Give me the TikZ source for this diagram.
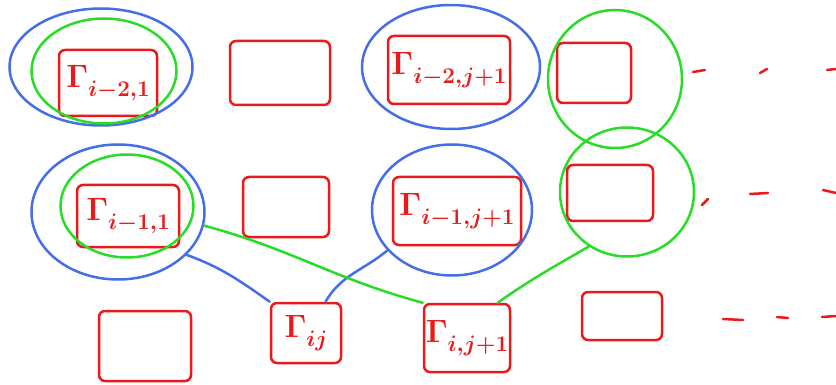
\documentclass[tikz,border=0pt]{standalone}
\usepackage{graphicx}
\usetikzlibrary{shapes.geometric}
\definecolor{inkred}{RGB}{235,25,25}
\definecolor{inkblue}{RGB}{70,110,230}
\definecolor{inkgreen}{RGB}{40,220,40}
\newcommand{\gam}[1]{\scalebox{1.3}{\boldmath\Huge$\Gamma$\raisebox{-0.28em}{\LARGE$#1$}}}
\begin{document}
\begin{tikzpicture}[x=1pt,y=-1pt,
 cell/.style={draw=inkred, text=inkred, line width=2.5pt, rounded corners=6pt, inner sep=0pt},
 bring/.style={draw=inkblue, ellipse, line width=2.5pt, inner sep=0pt},
 gring/.style={draw=inkgreen, ellipse, line width=2.5pt, inner sep=0pt},
 blink/.style={draw=inkblue, line width=2.5pt, line cap=round},
 glink/.style={draw=inkgreen, line width=2.5pt, line cap=round},
 tick/.style={draw=inkred, line width=2.5pt, line cap=round}]
\useasboundingbox (0,0) rectangle (836,385);

% row 1
\node[cell, minimum width=98pt, minimum height=66pt] (A) at (108,83) {\gam{i{-}2{,}1}};
\node[cell, minimum width=100pt, minimum height=64pt] (c2) at (280,73) {};
\node[cell, minimum width=122pt, minimum height=68pt] (B) at (449,70) {\gam{i{-}2{,}j{+}1}};
\node[cell, minimum width=74pt, minimum height=60pt] (c3) at (594,73) {};
% row 2
\node[cell, minimum width=102pt, minimum height=62pt] (C) at (128,216) {\gam{i{-}1{,}1}};
\node[cell, minimum width=86pt, minimum height=60pt] (c4) at (286,207) {};
\node[cell, minimum width=128pt, minimum height=68pt] (D) at (457,211) {\gam{i{-}1{,}j{+}1}};
\node[cell, minimum width=86pt, minimum height=56pt] (c5) at (610,193) {};
% row 3
\node[cell, minimum width=92pt, minimum height=70pt] (c6) at (145,346) {};
\node[cell, minimum width=70pt, minimum height=60pt] (E) at (306,333) {\gam{ij}};
\node[cell, minimum width=86pt, minimum height=68pt] (F) at (467,338) {\gam{i{,}j{+}1}};
\node[cell, minimum width=80pt, minimum height=48pt] (c7) at (622,316) {};

% rings
\node[bring, minimum width=183pt, minimum height=117pt] (bA) at (101,67) {};
\node[gring, minimum width=145pt, minimum height=105pt] (gA) at (104,71) {};
\node[bring, minimum width=178pt, minimum height=124pt] (bB) at (451,67) {};
\node[gring, minimum width=134pt, minimum height=138pt] (g3) at (615,79) {};
\node[bring, minimum width=173pt, minimum height=135pt] (bC) at (118,212) {};
\node[gring, minimum width=133pt, minimum height=103pt] (gC) at (127,206) {};
\node[bring, minimum width=160pt, minimum height=131pt] (bD) at (452,210) {};
\node[gring, minimum width=134pt, minimum height=129pt] (g5) at (627,192) {};

% links
\draw[blink] (bC.-32) to[out=-20, in=145] (E.north west);
\draw[blink] (bD.212) to[out=-140, in=60] (E.58);
\draw[glink] (bC.-9) to[out=-15, in=165] (F.north west);
\draw[glink] (g5.235) to[out=-150, in=35] (F.49);

% continuation dashes
\draw[tick] (693,72) -- (705,70);
\draw[tick] (760,73) -- (767,69);
\draw[tick] (827,70) -- (836,69);
\draw[tick] (702,205) -- (708,199);
\draw[tick] (750,194) -- (768,193);
\draw[tick] (823,190) -- (836,193);
\draw[tick] (723,319) -- (743,320);
\draw[tick] (777,317) -- (788,318);
\draw[tick] (822,317) -- (836,316);
\end{tikzpicture}
\end{document}
